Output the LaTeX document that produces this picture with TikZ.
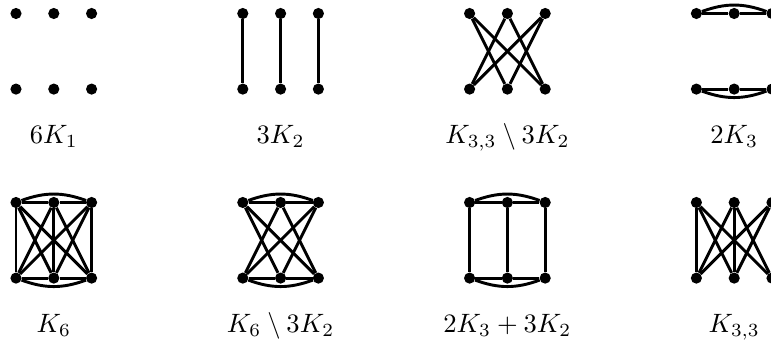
\documentclass[tikz,border=0pt]{standalone}
\tikzset{
  vtx/.style={circle,fill=black,inner sep=0pt,minimum size=8.4pt},
  edge/.style={line width=2.2pt},
  lbl/.style={anchor=base,scale=2}
}
\begin{document}
\begin{tikzpicture}
\useasboundingbox (-0.423,0.357) rectangle (19.974,-8.744);
\foreach \g/\x/\y in {g1/0/0, g2/6/0, g3/12/0, g4/18/0, g5/0/-5, g6/6/-5, g7/12/-5, g8/18/-5} {
  \foreach \i in {1,2,3} {
    \node[vtx] (\g a\i) at (\x+\i-1,\y) {};
    \node[vtx] (\g b\i) at (\x+\i-1,\y-2) {};
  }
}
% verticals
\foreach \g in {g2,g5,g7,g8} {
  \foreach \i in {1,2,3} \draw[edge] (\g a\i) -- (\g b\i);
}
% cross edges
\foreach \g in {g3,g5,g6,g8} {
  \foreach \i/\j in {1/2,1/3,2/1,2/3,3/1,3/2} \draw[edge] (\g a\i) -- (\g b\j);
}
% triangles
\foreach \g in {g4,g5,g6,g7} {
  \draw[edge] (\g a1) -- (\g a2);
  \draw[edge] (\g a2) -- (\g a3);
  \draw[edge] (\g a1) to[bend left=20] (\g a3);
  \draw[edge] (\g b1) -- (\g b2);
  \draw[edge] (\g b2) -- (\g b3);
  \draw[edge] (\g b1) to[bend right=20] (\g b3);
}
% labels
\node[lbl] (l1) at (1,-3.44) {$6K_1$};
\node[lbl] (l2) at (7,-3.44) {$3K_2$};
\node[lbl] (l3) at (13,-3.44) {$K_{3,3}\setminus 3K_2$};
\node[lbl] (l4) at (19,-3.44) {$2K_3$};
\node[lbl] (l5) at (1,-8.44) {$K_6$};
\node[lbl] (l6) at (7,-8.44) {$K_6\setminus 3K_2$};
\node[lbl] (l7) at (13,-8.44) {$2K_3+3K_2$};
\node[lbl] (l8) at (19,-8.44) {$K_{3,3}$};
\end{tikzpicture}
\end{document}
